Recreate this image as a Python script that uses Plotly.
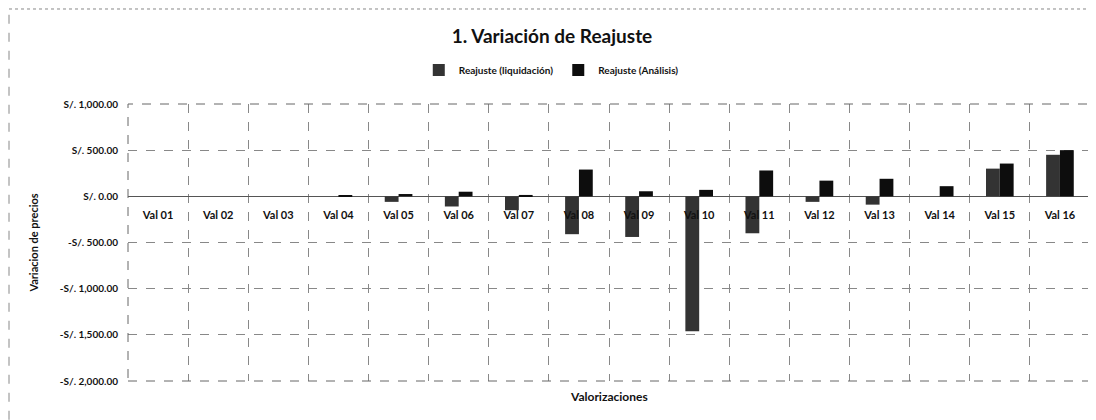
import plotly.graph_objects as go

# Valorizaciones y reajustes (S/.)
categorias = ["Val 01", "Val 02", "Val 03", "Val 04", "Val 05", "Val 06", "Val 07", "Val 08",
              "Val 09", "Val 10", "Val 11", "Val 12", "Val 13", "Val 14", "Val 15", "Val 16"]
reajuste_liquidacion = [0, 0, 0, 0, -60, -110, -150, -410, -440, -1460, -400, -60, -90, 0, 300, 450]
reajuste_analisis = [0, 0, 0, 12, 25, 50, 15, 290, 55, 70, 280, 170, 190, 110, 355, 500]

ticks_y = [1000, 500, 0, -500, -1000, -1500, -2000]
ticks_texto = ["S/. 1,000.00", "S/. 500.00", "S/. 0.00", "-S/. 500.00",
               "-S/. 1,000.00", "-S/. 1,500.00", "-S/. 2,000.00"]

FONT = "Lato"

fig = go.Figure()
fig.add_trace(go.Bar(x=categorias, y=reajuste_liquidacion, name="<b>Reajuste (liquidación)</b>",
                     marker=dict(color="#333333", line=dict(width=0))))
fig.add_trace(go.Bar(x=categorias, y=reajuste_analisis, name="<b>Reajuste (Análisis)</b>",
                     marker=dict(color="#0d0d0d", line=dict(width=0))))

# the page body adds an 8px margin, so the figure is 8px smaller than the window
fig.update_layout(
    width=1088, height=412,
    paper_bgcolor="white", plot_bgcolor="white",
    margin=dict(l=120, r=6, t=96, b=39, autoexpand=False),
    barmode="group", bargap=0.54, bargroupgap=0,
    font=dict(family=FONT, color="#111", size=11),
    title=dict(text="<b>1. Variación de Reajuste</b>", x=0.5, xanchor="center",
               y=0.93, yanchor="middle", font=dict(size=19, family=FONT, color="#111")),
    legend=dict(orientation="h", x=0.44, xanchor="center", y=1.123, yanchor="middle",
                font=dict(size=10, family=FONT), itemwidth=30, traceorder="normal"),
    xaxis=dict(anchor="free", position=2 / 3, showline=False, ticks="",
               tickson="boundaries", showgrid=True, gridcolor="#888", griddash="dash",
               gridwidth=1, tickfont=dict(size=11, family=FONT, color="#111"),
               tickvals=categorias, ticktext=["<b>" + c + "</b>" for c in categorias],
               ticklabelstandoff=11),
    yaxis=dict(range=[-2000, 1000], tickvals=ticks_y,
               ticktext=["<b>" + t + "</b>" for t in ticks_texto],
               showgrid=True, gridcolor="#888", griddash="dash", gridwidth=1,
               zeroline=True, zerolinecolor="#555", zerolinewidth=1,
               ticks="", ticklabelstandoff=9, tickfont=dict(size=10, family=FONT, color="#111"),
               title=dict(text="<b>Variacion de precios</b>", standoff=18,
                          font=dict(size=11, family=FONT, color="#111"))),
    annotations=[dict(text="<b>Valorizaciones</b>", xref="paper", yref="paper",
                      x=0.5, y=-0.02, xanchor="center", yanchor="top", showarrow=False,
                      font=dict(size=12, family=FONT, color="#111"))],
    shapes=[
        dict(type="rect", xref="paper", yref="paper", x0=0, x1=1, y0=0, y1=1,
             line=dict(color="#666", width=1, dash="dash")),
        dict(type="line", xref="paper", yref="paper", x0=-0.1237, x1=-0.1237, y0=-0.14, y1=1.343,
             line=dict(color="#888", width=1, dash="dash")),
        dict(type="line", xref="paper", yref="paper", x0=-0.1237, x1=1.006, y0=1.343, y1=1.343,
             line=dict(color="#888", width=1, dash="dot")),
    ],
)

fig.write_html("out.html")
